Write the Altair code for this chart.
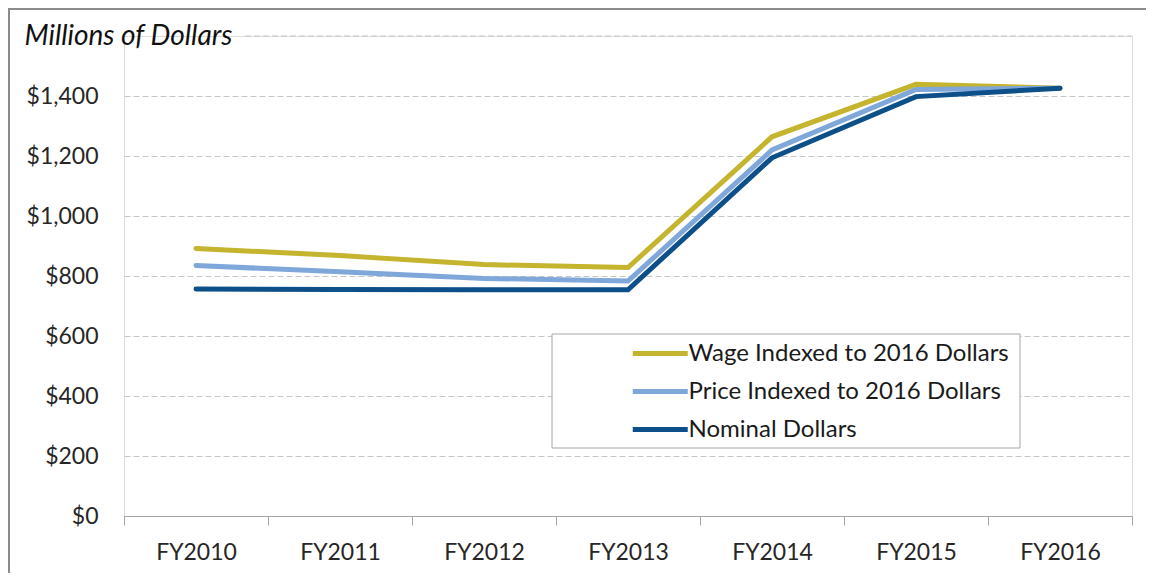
import altair as alt
import pandas as pd

years = ["FY2010", "FY2011", "FY2012", "FY2013", "FY2014", "FY2015", "FY2016"]
series_names = ["Wage Indexed to 2016 Dollars", "Price Indexed to 2016 Dollars", "Nominal Dollars"]
wage = [892, 868, 838, 828, 1264, 1439, 1426]
price = [835, 814, 792, 783, 1220, 1422, 1426]
nominal = [757, 755, 754, 754, 1194, 1398, 1426]
colors = ["#c4b42e", "#7fa7da", "#0d4f88"]
y_ticks = [0, 200, 400, 600, 800, 1000, 1200, 1400]
y_max = 1600

rows = []
for name, vals in zip(series_names, [wage, price, nominal]):
    for yr, v in zip(years, vals):
        rows.append({"year": yr, "series": name, "value": v})
df = pd.DataFrame(rows)

W, H = 1008, 480
PL, PT, PR, PB = 116, 28, 14, 57
FONT = "Lato"

one = pd.DataFrame({"k": [0]})

left_border = alt.Chart(one).mark_rule(color="#8c8c8c", strokeWidth=2).encode(
    x=alt.value(-115), y=alt.value(-PT), y2=alt.value(H + PB)
)
top_border = alt.Chart(one).mark_rule(color="#8c8c8c", strokeWidth=2).encode(
    y=alt.value(-27), x=alt.value(-PL), x2=alt.value(W + PR)
)
top_grid = alt.Chart(one).mark_rule(color="#c6c6c6", strokeWidth=1, strokeDash=[6, 3]).encode(
    y=alt.datum(y_max), x=alt.value(121), x2=alt.value(W)
)
legend_box = alt.Chart(one).mark_rect(fill="white", stroke="#a6a6a6", strokeWidth=1).encode(
    x=alt.value(428), x2=alt.value(896), y=alt.value(298), y2=alt.value(412)
)

lines = alt.Chart(df).mark_line(strokeWidth=5, strokeCap="round", strokeJoin="miter").encode(
    x=alt.X(
        "year:N",
        sort=years,
        scale=alt.Scale(type="band", paddingInner=0, paddingOuter=0),
        bandPosition=0.5,
        axis=alt.Axis(
            title=None,
            labelAngle=0,
            labelFontSize=23,
            labelColor="#262626",
            labelFont=FONT,
            domainColor="#a6a6a6",
            tickColor="#a6a6a6",
            tickSize=9,
            tickBand="extent",
            labelPadding=16,
            grid=False,
        ),
    ),
    y=alt.Y(
        "value:Q",
        scale=alt.Scale(domain=[0, y_max], nice=False),
        axis=alt.Axis(
            values=y_ticks,
            format="$,.0f",
            title="Millions of Dollars",
            titleAngle=0,
            titleAlign="left",
            titleBaseline="middle",
            titleX=-100,
            titleY=0,
            titleFont=FONT,
            titleFontStyle="italic",
            titleFontWeight="normal",
            titleFontSize=28,
            titleColor="#111111",
            grid=True,
            gridDash=[6, 3],
            gridColor="#c6c6c6",
            gridWidth=1,
            domain=False,
            ticks=False,
            tickSize=0,
            labelPadding=26,
            labelFontSize=23,
            labelColor="#262626",
            labelFont=FONT,
        ),
    ),
    color=alt.Color(
        "series:N",
        sort=series_names,
        scale=alt.Scale(domain=series_names, range=colors),
        legend=alt.Legend(
            title=None,
            orient="none",
            legendX=506,
            legendY=301,
            symbolType="M-1,0H3",
            symbolSize=756.25,
            symbolStrokeWidth=5,
            labelFontSize=24,
            labelFont=FONT,
            labelColor="#1a1a1a",
            labelOffset=25.5,
            labelLimit=400,
            rowPadding=9,
            padding=0,
        ),
    ),
)

chart = alt.layer(left_border, top_border, top_grid, legend_box, lines).properties(
    width=W,
    height=H,
    padding={"left": PL, "top": PT, "right": PR, "bottom": PB},
    autosize=alt.AutoSizeParams(type="none"),
).configure_view(stroke=None).configure(font=FONT)

chart.save("out.html", embed_options={"renderer": "svg", "actions": False})
